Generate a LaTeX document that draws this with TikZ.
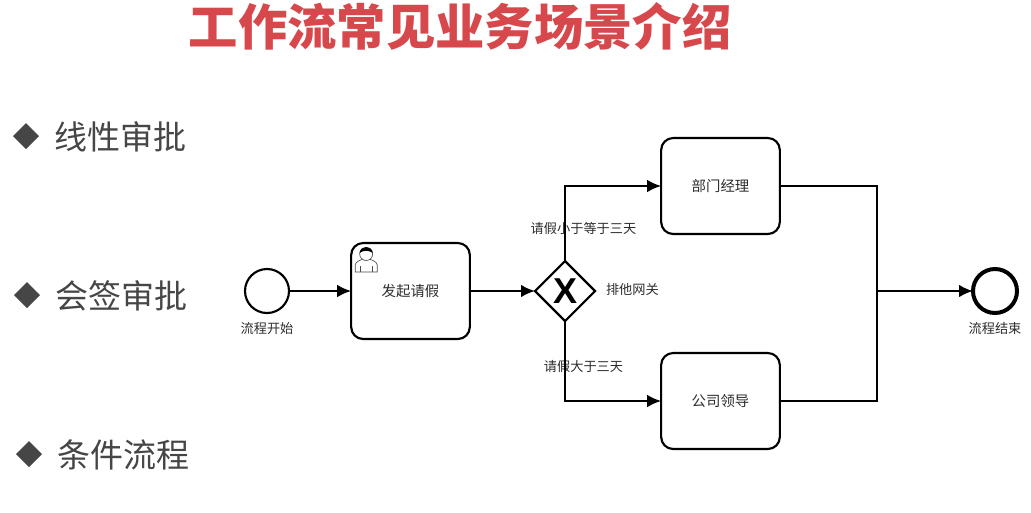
\documentclass[tikz,border=0pt]{standalone}
\usepackage{fontspec}
\setmainfont{Noto Sans CJK SC}
\newfontfamily\markfont{Liberation Sans}
\usetikzlibrary{arrows.meta, shapes.geometric, positioning}
\definecolor{titleRed}{RGB}{214, 72, 76}
\definecolor{itemGray}{RGB}{70, 70, 70}
\definecolor{labelGray}{RGB}{45, 45, 45}
\tikzset{
    every node/.style={inner sep=0pt, outer sep=0pt},
    event/.style={draw=black, circle, fill=white, minimum size=33pt, line width=1.6pt},
    endevent/.style={event, line width=3pt},
    task/.style={
        draw=black, fill=white, rounded corners=9pt, line width=1.6pt,
        minimum width=89pt, minimum height=72pt, align=center,
        font=\fontsize{10.8pt}{13pt}\selectfont, text=labelGray
    },
    gateway/.style={
        draw=black, diamond, fill=white, aspect=1, minimum size=45pt, line width=1.6pt,
        font=\markfont\bfseries\fontsize{27pt}{28pt}\selectfont
    },
    arrow/.style={-{Latex[length=10.5pt, width=9.5pt]}, black, line width=1.6pt},
    link/.style={black, line width=1.6pt},
    label-edge/.style={font=\fontsize{9.9pt}{12pt}\selectfont, text=labelGray},
    bullet/.style={diamond, fill=itemGray, aspect=1, minimum size=19.5pt},
    item/.style={font=\fontsize{24.75pt}{28pt}\selectfont, text=itemGray, anchor=west}
}
\begin{document}
\begin{tikzpicture}[x=0.75pt, y=-0.75pt]
    \useasboundingbox (0,0) rectangle (1031,512);

    \node[font=\bfseries\fontsize{37pt}{40pt}\selectfont, text=titleRed] (title) at (460,26) {工作流常见业务场景介绍};

    \node[bullet] (bullet1) at (26,136) {};
    \node[item] (item1) at (54,137) {线性审批};
    \node[bullet] (bullet2) at (27,295) {};
    \node[item] (item2) at (55,296) {会签审批};
    \node[bullet] (bullet3) at (29,454) {};
    \node[item] (item3) at (57,455) {条件流程};

    \node[event] (start) at (267,291) {};
    \node[task] (apply) at (410.5,291) {发起请假};
    \node[gateway] (xor) at (565,291) {X};
    \node[task] (dept) at (720.5,186) {部门经理};
    \node[task] (boss) at (720.5,401) {公司领导};
    \node[endevent] (finish) at (995,291) {};
    \coordinate (merge) at (877,291);

    \node[label-edge, below=7pt of start] (startLabel) {流程开始};
    \node[label-edge, below=7pt of finish] (finishLabel) {流程结束};
    \node[label-edge, anchor=west] (xorLabel) at (606,289) {排他网关};
    \node[label-edge] (lessLabel) at (583.5,228) {请假小于等于三天};
    \node[label-edge] (moreLabel) at (583.5,366) {请假大于三天};

    \draw[arrow] (start) -- (apply);
    \draw[arrow] (apply) -- (xor);
    \draw[arrow] (xor.north) |- (dept.west);
    \draw[arrow] (xor.south) |- (boss.west);
    \draw[link] (dept.east) -| (merge);
    \draw[link] (boss.east) -| (merge);
    \draw[arrow] (merge) -- (finish);

    % user marker
    \begin{scope}[shift={(apply.north west)}, line width=0.5pt, draw=black!70]
        \draw[fill=white] (4,29) -- (4,22) .. controls (4,19) and (9,17) .. (12,16) -- (18,16) .. controls (21,17) and (26,19) .. (26,22) -- (26,29) -- cycle;
        \draw[fill=white] (15,11) circle (6.5);
        \fill[black] (8.5,10) .. controls (9,2) and (21,2) .. (21.5,10) .. controls (18,7) and (12,7) .. (8.5,10) -- cycle;
        \draw (9,23) -- (9,29) (21,23) -- (21,29);
    \end{scope}
\end{tikzpicture}
\end{document}
